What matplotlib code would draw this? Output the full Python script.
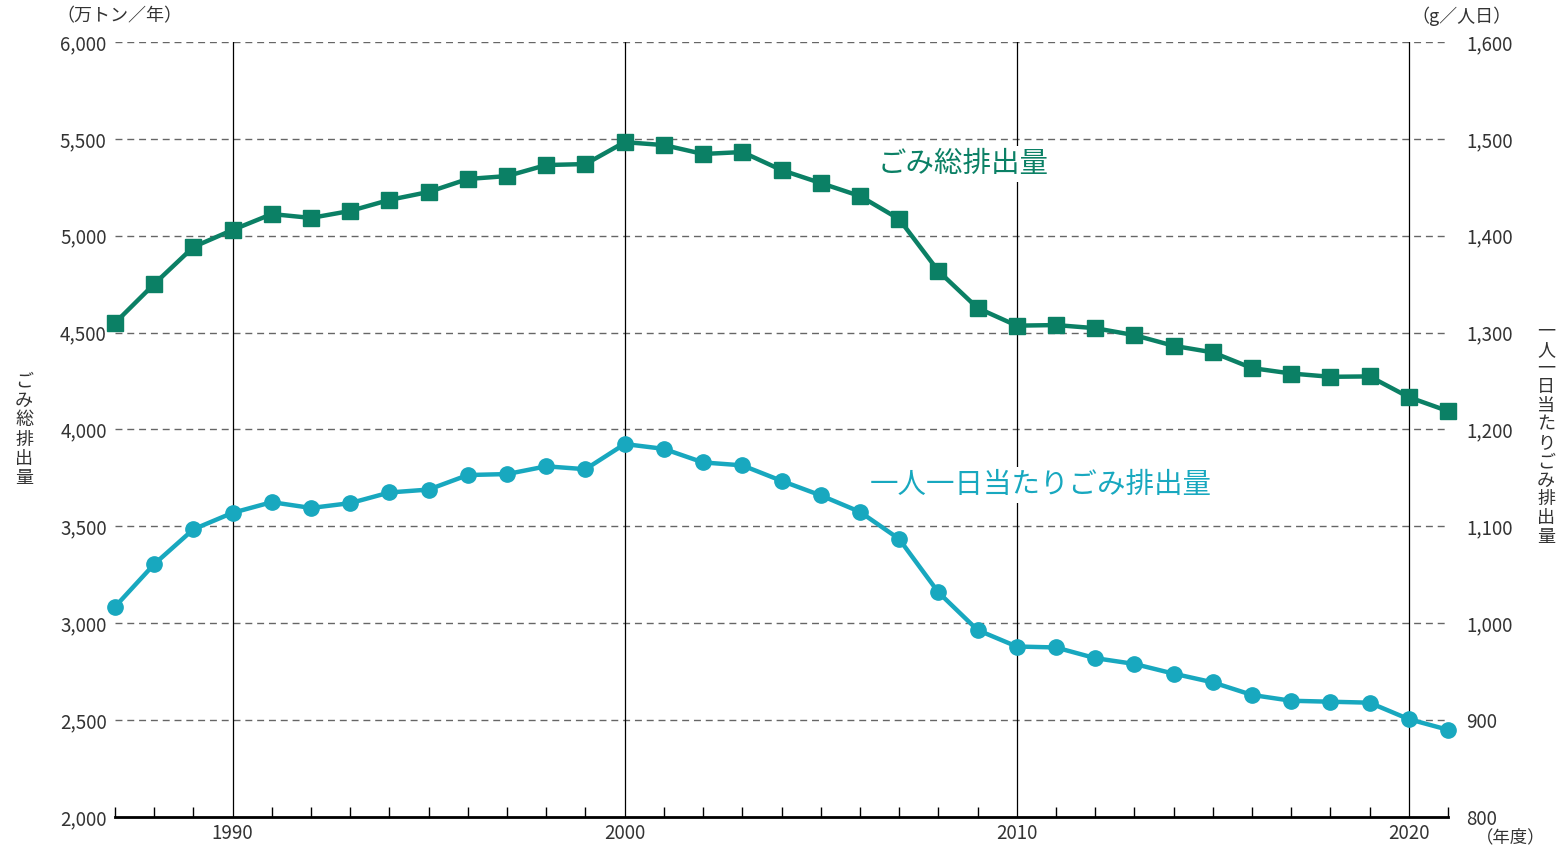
import matplotlib
matplotlib.use("Agg")
import matplotlib.pyplot as plt
from matplotlib.ticker import MultipleLocator, FuncFormatter

plt.rcParams['font.family'] = ['Noto Sans CJK JP', 'DejaVu Sans']

# ごみ総排出量 (万トン/年) と 一人一日当たりごみ排出量 (g/人日)
years = list(range(1987, 2022))
total = [4550, 4751, 4942, 5030, 5112, 5092, 5128, 5185, 5226, 5293,
         5308, 5365, 5370, 5483, 5468, 5422, 5432, 5339, 5272, 5205,
         5086, 4818, 4627, 4536, 4539, 4523, 4487, 4432, 4398, 4317,
         4289, 4272, 4274, 4167, 4095]
per_capita = [1017, 1061, 1097, 1114, 1125, 1119, 1124, 1135, 1138, 1153,
              1154, 1162, 1159, 1185, 1180, 1166, 1163, 1147, 1132, 1115,
              1087, 1032, 993, 976, 975, 964, 958, 948, 939, 926,
              920, 919, 918, 901, 890]

GREEN = "#0b8065"
CYAN = "#18a8bf"
TEXT = "#333333"

W, H = 1558, 846
fig = plt.figure(figsize=(W / 100, H / 100), dpi=100)
ax = fig.add_axes([115 / W, 1 - 817 / H, (1448 - 115) / W, (817 - 42) / H])
ax2 = ax.twinx()

ax.set_xlim(1987, 2021)
ax.set_ylim(2000, 6000)
ax2.set_ylim(800, 1600)

# dashed horizontal grid
for v in range(2500, 6001, 500):
    ax.axhline(v, color="#666666", lw=1.0, ls=(0, (5, 3.5)), zorder=1)
# decade lines
for d in (1990, 2000, 2010, 2020):
    ax.axvline(d, color="black", lw=0.9, zorder=2)

for a in (ax, ax2):
    for s in ("top", "left", "right"):
        a.spines[s].set_visible(False)
ax.spines["bottom"].set_linewidth(2.0)
ax.spines["bottom"].set_color("black")

ax.xaxis.set_major_locator(MultipleLocator(10))
ax.xaxis.set_minor_locator(MultipleLocator(1))
ax.tick_params(axis="x", which="both", direction="in", length=7, width=1.0,
               labelsize=13.5, labelcolor=TEXT, pad=4)
ax.tick_params(axis="x", which="major", length=0)
ax.set_xticks(list(range(1990, 2021, 10)))

ax.yaxis.set_major_locator(MultipleLocator(500))
ax.yaxis.set_major_formatter(FuncFormatter(lambda v, p: f"{int(v):,}"))
ax.tick_params(axis="y", length=0, labelsize=13.5, labelcolor=TEXT, pad=6)

ax2.yaxis.set_major_locator(MultipleLocator(100))
ax2.yaxis.set_major_formatter(FuncFormatter(lambda v, p: f"{int(v):,}"))
ax2.tick_params(axis="y", length=0, labelsize=13.5, labelcolor=TEXT, pad=13)

ax.plot(years, total, color=GREEN, lw=3.2, marker="s", markersize=11.5,
        zorder=5, clip_on=False)
ax2.plot(years, per_capita, color=CYAN, lw=3.2, marker="o", markersize=11,
         zorder=5, clip_on=False)

ax.text(2006.45, 5370, "ごみ総排出量", color=GREEN, fontsize=20.5,
        va="center", ha="left", zorder=4,
        bbox=dict(facecolor="white", edgecolor="none", pad=2))
ax2.text(2006.25, 1143, "一人一日当たりごみ排出量", color=CYAN, fontsize=20.5,
         va="center", ha="left", zorder=4,
         bbox=dict(facecolor="white", edgecolor="none", pad=2))

# units and vertical axis titles
fig.text(56 / W, 1 - 16 / H, "（万トン／年）", fontsize=13, color=TEXT,
         ha="left", va="center")
fig.text(1512 / W, 1 - 16 / H, "（g／人日）", fontsize=13, color=TEXT,
         ha="right", va="center")
fig.text(1476 / W, 1 - 837 / H, "（年度）", fontsize=12.5, color=TEXT,
         ha="left", va="center")
fig.text(24 / W, 1 - 430 / H, "\n".join("ごみ総排出量"), fontsize=13,
         color=TEXT, ha="center", va="center", linespacing=1.1)
fig.text(1546 / W, 1 - 434 / H, "\n".join("一人一日当たりごみ排出量"),
         fontsize=13, color=TEXT, ha="center", va="center", linespacing=1.05)

fig.savefig("out.png", dpi=100)
